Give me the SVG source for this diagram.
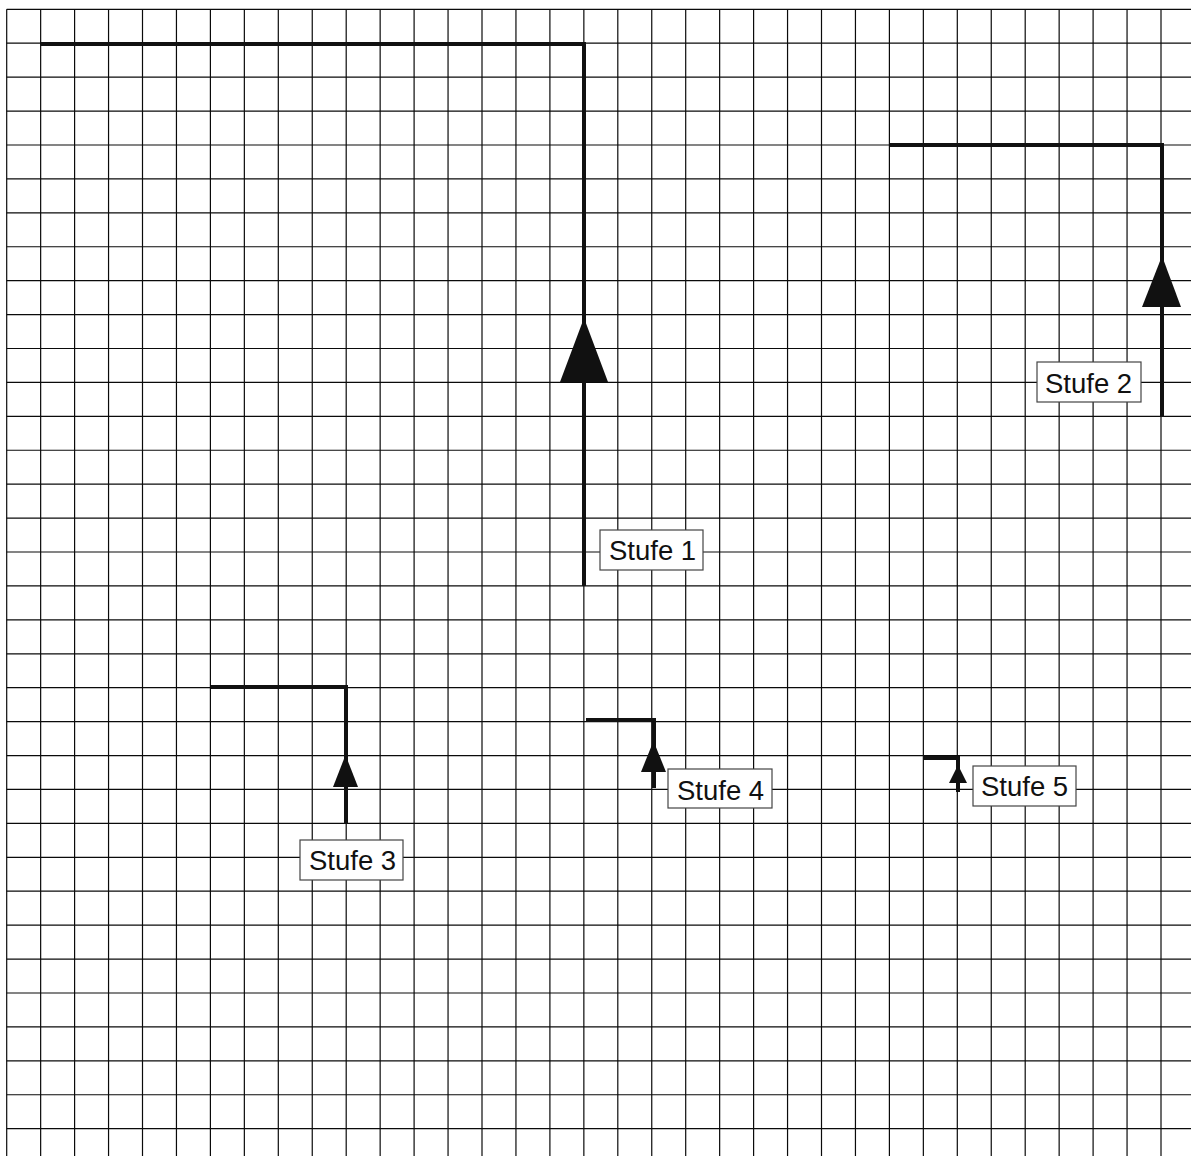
<svg xmlns="http://www.w3.org/2000/svg" width="1191" height="1156" viewBox="0 0 1191 1156">
<style>
.g line{stroke:#0a0a0a;stroke-width:1.2}
.c{stroke:#111;stroke-width:4;fill:none;stroke-linejoin:miter;stroke-linecap:butt}
.a{fill:#111}
.b{fill:#fff;stroke:#444;stroke-width:1.2}
.t{font-family:"Liberation Sans",Arial,sans-serif;font-size:27.5px;fill:#111}
</style>
<rect width="1191" height="1156" fill="#fff"/>
<g class="g" id="grid">
<line x1="6.7" y1="9.3" x2="6.7" y2="1156"/>
<line x1="40.65" y1="9.3" x2="40.65" y2="1156"/>
<line x1="74.6" y1="9.3" x2="74.6" y2="1156"/>
<line x1="108.55" y1="9.3" x2="108.55" y2="1156"/>
<line x1="142.5" y1="9.3" x2="142.5" y2="1156"/>
<line x1="176.45" y1="9.3" x2="176.45" y2="1156"/>
<line x1="210.4" y1="9.3" x2="210.4" y2="1156"/>
<line x1="244.35" y1="9.3" x2="244.35" y2="1156"/>
<line x1="278.3" y1="9.3" x2="278.3" y2="1156"/>
<line x1="312.25" y1="9.3" x2="312.25" y2="1156"/>
<line x1="346.2" y1="9.3" x2="346.2" y2="1156"/>
<line x1="380.15" y1="9.3" x2="380.15" y2="1156"/>
<line x1="414.1" y1="9.3" x2="414.1" y2="1156"/>
<line x1="448.05" y1="9.3" x2="448.05" y2="1156"/>
<line x1="482" y1="9.3" x2="482" y2="1156"/>
<line x1="515.95" y1="9.3" x2="515.95" y2="1156"/>
<line x1="549.9" y1="9.3" x2="549.9" y2="1156"/>
<line x1="583.85" y1="9.3" x2="583.85" y2="1156"/>
<line x1="617.8" y1="9.3" x2="617.8" y2="1156"/>
<line x1="651.75" y1="9.3" x2="651.75" y2="1156"/>
<line x1="685.7" y1="9.3" x2="685.7" y2="1156"/>
<line x1="719.65" y1="9.3" x2="719.65" y2="1156"/>
<line x1="753.6" y1="9.3" x2="753.6" y2="1156"/>
<line x1="787.55" y1="9.3" x2="787.55" y2="1156"/>
<line x1="821.5" y1="9.3" x2="821.5" y2="1156"/>
<line x1="855.45" y1="9.3" x2="855.45" y2="1156"/>
<line x1="889.4" y1="9.3" x2="889.4" y2="1156"/>
<line x1="923.35" y1="9.3" x2="923.35" y2="1156"/>
<line x1="957.3" y1="9.3" x2="957.3" y2="1156"/>
<line x1="991.25" y1="9.3" x2="991.25" y2="1156"/>
<line x1="1025.2" y1="9.3" x2="1025.2" y2="1156"/>
<line x1="1059.15" y1="9.3" x2="1059.15" y2="1156"/>
<line x1="1093.1" y1="9.3" x2="1093.1" y2="1156"/>
<line x1="1127.05" y1="9.3" x2="1127.05" y2="1156"/>
<line x1="1161" y1="9.3" x2="1161" y2="1156"/>
<line x1="6.7" y1="9.3" x2="1191" y2="9.3"/>
<line x1="6.7" y1="43.22" x2="1191" y2="43.22"/>
<line x1="6.7" y1="77.14" x2="1191" y2="77.14"/>
<line x1="6.7" y1="111.06" x2="1191" y2="111.06"/>
<line x1="6.7" y1="144.98" x2="1191" y2="144.98"/>
<line x1="6.7" y1="178.9" x2="1191" y2="178.9"/>
<line x1="6.7" y1="212.82" x2="1191" y2="212.82"/>
<line x1="6.7" y1="246.74" x2="1191" y2="246.74"/>
<line x1="6.7" y1="280.66" x2="1191" y2="280.66"/>
<line x1="6.7" y1="314.58" x2="1191" y2="314.58"/>
<line x1="6.7" y1="348.5" x2="1191" y2="348.5"/>
<line x1="6.7" y1="382.42" x2="1191" y2="382.42"/>
<line x1="6.7" y1="416.34" x2="1191" y2="416.34"/>
<line x1="6.7" y1="450.26" x2="1191" y2="450.26"/>
<line x1="6.7" y1="484.18" x2="1191" y2="484.18"/>
<line x1="6.7" y1="518.1" x2="1191" y2="518.1"/>
<line x1="6.7" y1="552.02" x2="1191" y2="552.02"/>
<line x1="6.7" y1="585.94" x2="1191" y2="585.94"/>
<line x1="6.7" y1="619.86" x2="1191" y2="619.86"/>
<line x1="6.7" y1="653.78" x2="1191" y2="653.78"/>
<line x1="6.7" y1="687.7" x2="1191" y2="687.7"/>
<line x1="6.7" y1="721.62" x2="1191" y2="721.62"/>
<line x1="6.7" y1="755.54" x2="1191" y2="755.54"/>
<line x1="6.7" y1="789.46" x2="1191" y2="789.46"/>
<line x1="6.7" y1="823.38" x2="1191" y2="823.38"/>
<line x1="6.7" y1="857.3" x2="1191" y2="857.3"/>
<line x1="6.7" y1="891.22" x2="1191" y2="891.22"/>
<line x1="6.7" y1="925.14" x2="1191" y2="925.14"/>
<line x1="6.7" y1="959.06" x2="1191" y2="959.06"/>
<line x1="6.7" y1="992.98" x2="1191" y2="992.98"/>
<line x1="6.7" y1="1026.9" x2="1191" y2="1026.9"/>
<line x1="6.7" y1="1060.82" x2="1191" y2="1060.82"/>
<line x1="6.7" y1="1094.74" x2="1191" y2="1094.74"/>
<line x1="6.7" y1="1128.66" x2="1191" y2="1128.66"/>
</g>
<g id="connectors">
<path class="c" d="M41,44 H584 V586"/>
<polygon class="a" points="584,318 560,382 608,382"/>
<path class="c" d="M890,145 H1162 V417"/>
<polygon class="a" points="1162,256 1142,307 1181,307"/>
<path class="c" d="M211,687 H346 V824"/>
<polygon class="a" points="345.5,755 333,787 358,787"/>
<path class="c" d="M586,720 H654 V788"/>
<polygon class="a" points="653.5,741 641,772 666,772"/>
<path class="c" d="M923,758 H958 V792"/>
<polygon class="a" points="958,765 949,783 967,783"/>
</g>
<g id="stufe1"><rect class="b" x="600" y="530" width="103" height="40"/><text class="t" x="609" y="560">Stufe 1</text></g>
<g id="stufe2"><rect class="b" x="1037" y="362" width="104" height="40"/><text class="t" x="1045" y="393">Stufe 2</text></g>
<g id="stufe3"><rect class="b" x="300" y="840" width="103" height="40"/><text class="t" x="309" y="870">Stufe 3</text></g>
<g id="stufe4"><rect class="b" x="668" y="769" width="104" height="39"/><text class="t" x="677" y="800">Stufe 4</text></g>
<g id="stufe5"><rect class="b" x="973" y="766" width="103" height="40"/><text class="t" x="981" y="796">Stufe 5</text></g>
</svg>
